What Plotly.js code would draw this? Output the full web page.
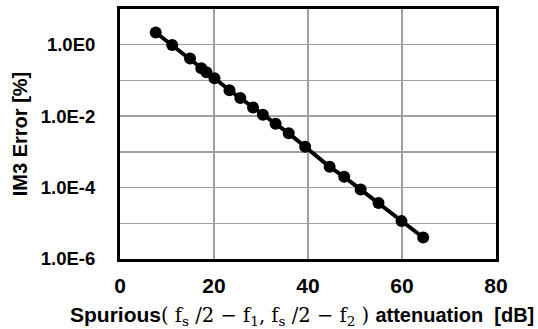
<!DOCTYPE html>
<html>
<head>
<meta charset="utf-8">
<script src="https://cdn.plot.ly/plotly-3.0.1.min.js"></script>
<style>html,body{margin:0;padding:0;background:#fff;}#chart{width:538px;height:329px;}</style>
</head>
<body>
<div id="chart"></div>
<script>
// Spurious attenuation [dB]
const attenuation = [7.6, 11.1, 14.9, 17.3, 18.4, 20.1, 23.3, 25.6, 28.3, 30.4, 33.1, 35.9, 39.4, 44.6, 47.7, 51.2, 55.0, 59.9, 64.5];
// IM3 error [%]
const im3Error = [2.2, 0.98, 0.41, 0.22, 0.17, 0.115, 0.053, 0.032, 0.0174, 0.011, 0.0061, 0.0033, 0.00139, 0.00038, 0.0002, 0.000088, 0.000037, 0.0000115, 0.000004];
const yTickVals = [1e-6, 1e-4, 1e-2, 1e0];
const yTickText = ['1.0E-6', '1.0E-4', '1.0E-2', '1.0E0'];
const xTickVals = [0, 20, 40, 60, 80];

const mathStyle = 'font-family:DejaVu Serif;font-weight:normal;font-size:19.5px';
const m = s => '<span style="' + mathStyle + '">' + s + '</span>';
const xTitle = '<span style="font-size:21px">Spurious</span>' +
  m('( f<sub>s</sub> /2 − f<sub>1</sub>, f<sub>s</sub> /2 − f<sub>2</sub> ) ') + 'attenuation  [dB]';

const trace = {
  x: attenuation, y: im3Error, type: 'scatter', mode: 'lines+markers',
  line: {color: '#000', width: 4},
  marker: {color: '#000', size: 12},
  showlegend: false, hoverinfo: 'skip'
};

const gridColor = '#a0a0a0';

const layout = {
  width: 538, height: 329,
  margin: {l: 120, r: 42, t: 9, b: 70},
  paper_bgcolor: '#fff', plot_bgcolor: '#fff',
  font: {family: 'Liberation Sans, Arial, sans-serif', size: 17, color: '#000'},
  xaxis: {
    range: [0, 80], tickmode: 'array', tickvals: xTickVals,
    showgrid: true, gridcolor: gridColor, gridwidth: 1.5,
    showline: true, linecolor: '#000', linewidth: 3, mirror: true,
    zeroline: false, ticks: '', ticklabelstandoff: 6,
    tickfont: {size: 21, family: 'Liberation Sans', weight: 'bold', color: '#000'}
  },
  yaxis: {
    type: 'log', range: [-6, 1], tickmode: 'array', tickvals: yTickVals, ticktext: yTickText,
    showgrid: true, gridcolor: gridColor, gridwidth: 1.5,
    minor: {dtick: 1, showgrid: true, gridcolor: gridColor, gridwidth: 1.5, ticks: ''},
    showline: true, linecolor: '#000', linewidth: 3, mirror: true,
    zeroline: false, ticks: '', ticklabelstandoff: 18,
    tickfont: {size: 18.5, family: 'Liberation Sans', weight: 'bold', color: '#000'},
    title: {text: 'IM3 Error [%]', font: {size: 20, family: 'Liberation Sans', weight: 'bold'}, standoff: 8}
  },
  annotations: [{
    text: xTitle, xref: 'paper', yref: 'paper', x: 0.484, y: 0,
    xanchor: 'center', yanchor: 'top', yshift: -42, showarrow: false,
    font: {size: 20, family: 'Liberation Sans', weight: 'bold', color: '#000'}
  }]
};

Plotly.newPlot('chart', [trace], layout, {staticPlot: true, displayModeBar: false});
</script>
</body>
</html>
